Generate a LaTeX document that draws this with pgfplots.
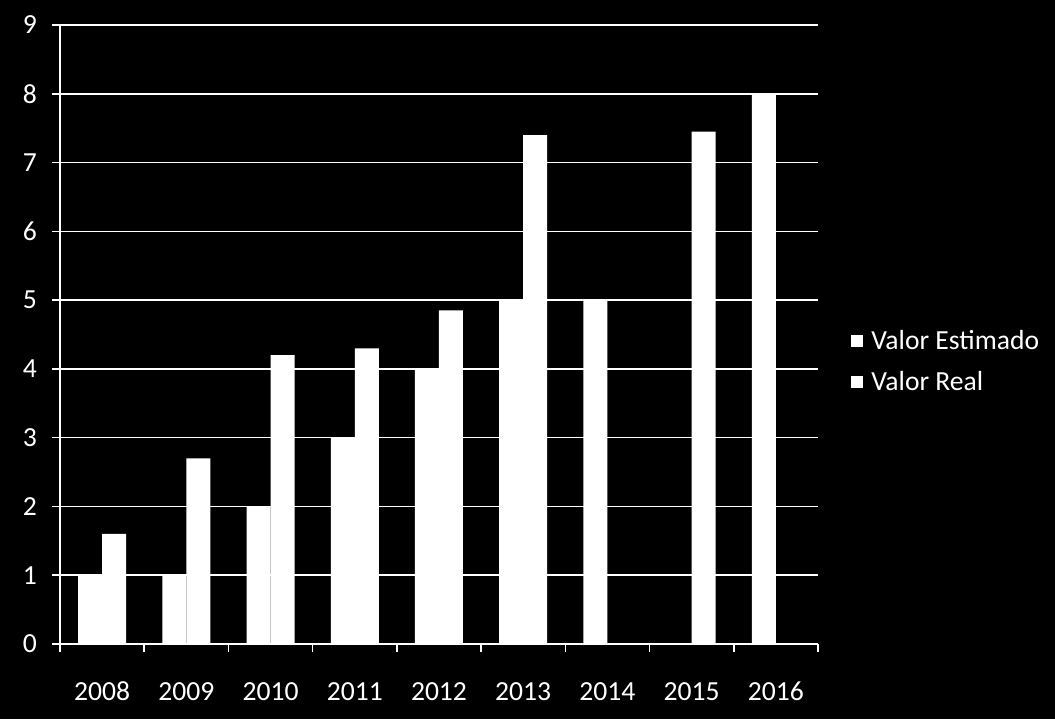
\documentclass[border=0pt]{standalone}
\usepackage{fontspec}
\setmainfont{Carlito}
\usepackage{pgfplots}
\pgfplotsset{compat=1.18}
\begin{document}
\begin{tikzpicture}
\fill[black] (-30pt,-37.5pt) rectangle (497.5pt,322pt);
\begin{axis}[
  at={(0,0)}, anchor=south west,
  scale only axis, width=379pt, height=309.5pt,
  xmin=-0.5, xmax=8.5, ymin=0, ymax=9,
  ybar=0pt, bar width=12pt,
  axis x line*=bottom, axis y line*=left,
  axis line style={white, line width=0.75pt},
  ytick={0,...,9},
  ymajorgrids, grid style={white, line width=0.75pt},
  xtick={0,...,8},
  xticklabels={2008,2009,2010,2011,2012,2013,2014,2015,2016},
  minor xtick={-0.5,0.5,...,8.5},
  tick align=outside,
  major tick length=4pt, minor tick length=4pt,
  tick style={white, line width=0.75pt},
  major x tick style={draw=none},
  /pgf/number format/assume math mode=true,
  ticklabel style={text=white, font=\fontsize{13.8}{16}\selectfont},
  yticklabel style={xshift=-4pt},
  xticklabel style={anchor=base, yshift=-24pt},
  xticklabel shift=0pt,
  legend style={at={(1.0435,0.456)}, anchor=west, draw=none, fill=black,
    text=white, font=\fontsize{13.8}{16}\selectfont, row sep=5.2pt, inner sep=0pt,
    /tikz/every even column/.append style={column sep=0pt}},
  legend cell align=left,
  legend image code/.code={\fill[white] (0pt,-3pt) rectangle (6pt,3pt);},
  every axis legend/.append style={nodes={inner xsep=4pt}},
]
\addplot[fill=white, draw=none] coordinates {(0,1) (1,1) (2,2) (3,3) (4,4) (5,5) (6,5) (8,8)};
\addplot[fill=white, draw=none] coordinates {(0,1.6) (1,2.7) (2,4.2) (3,4.3) (4,4.85) (5,7.4) (7,7.45)};
\legend{Valor Estimado, Valor Real}
\end{axis}
\end{tikzpicture}
\end{document}
